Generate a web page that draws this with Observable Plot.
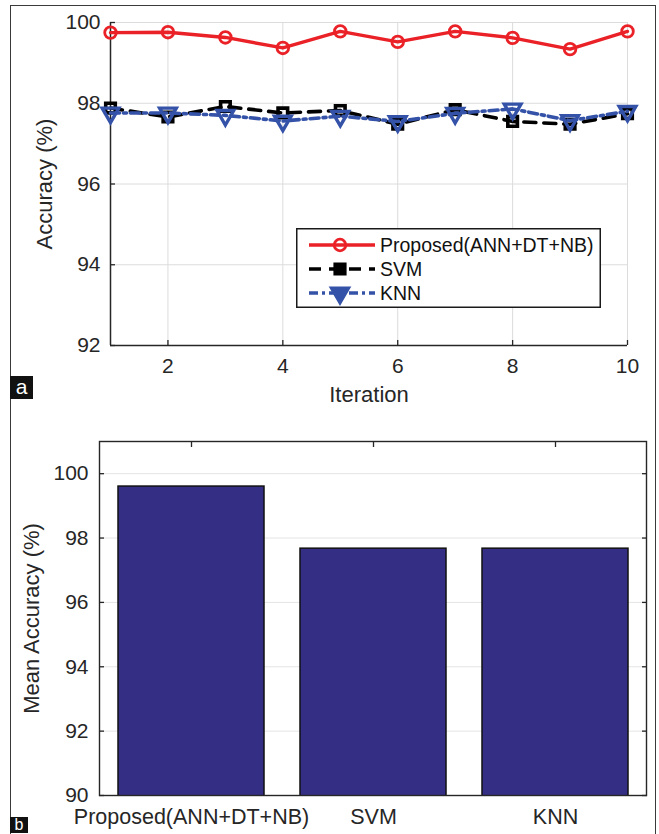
<!DOCTYPE html>
<html>
<head>
<meta charset="utf-8">
<script src="https://cdn.jsdelivr.net/npm/d3@7"></script>
<script src="https://cdn.jsdelivr.net/npm/@observablehq/plot@0.6"></script>
<style>
  html, body { margin: 0; padding: 0; background: #fff; overflow: hidden; }
  #wrap { position: relative; width: 659px; height: 834px; overflow: hidden; font-family: "Liberation Sans", Arial, sans-serif; }
  #top, #bottom { position: absolute; left: 0; }
  #top { top: 0; }
  #bottom { top: 420px; }
  #frame { position: absolute; left: 10px; top: 5px; width: 646px; height: 860px; border: 1.5px solid #3a3a3a; box-sizing: border-box; pointer-events: none; }
  .tag { position: absolute; background: #111; color: #fff; text-align: center; }
  #tagA { left: 10px; top: 376px; width: 23px; height: 23px; font-size: 21px; line-height: 22px; }
  #tagB { left: 10px; top: 817px; width: 18px; height: 16px; font-size: 16px; line-height: 16px; }
  #legend { position: absolute; left: 296px; top: 228px; }
</style>
</head>
<body>
<div id="wrap">
  <div id="top"></div>
  <div id="bottom"></div>
  <svg id="legend" width="305" height="80"></svg>
  <div id="frame"></div>
  <div class="tag" id="tagA">a</div>
  <div class="tag" id="tagB">b</div>
</div>
<script>
// ---------- data ----------
const iterations = [1, 2, 3, 4, 5, 6, 7, 8, 9, 10];
const proposedAcc = [99.75, 99.76, 99.63, 99.37, 99.78, 99.52, 99.78, 99.62, 99.34, 99.78];
const svmAcc      = [97.88, 97.66, 97.92, 97.76, 97.82, 97.48, 97.84, 97.55, 97.48, 97.74];
const knnAcc      = [97.76, 97.76, 97.70, 97.56, 97.68, 97.55, 97.75, 97.86, 97.57, 97.80];
const seriesNames = ["Proposed(ANN+DT+NB)", "SVM", "KNN"];
const xTicksTop = [2, 4, 6, 8, 10];
const yTicksTop = [92, 94, 96, 98, 100];

const methods = ["Proposed(ANN+DT+NB)", "SVM", "KNN"];
const meanAcc = [99.6, 97.67, 97.67];
const yTicksBottom = [90, 92, 94, 96, 98, 100];

// ---------- styles ----------
const FONT = "Liberation Sans, Arial, Helvetica, sans-serif";
const INK = "#262626";
const GRID = "#dcdcdc";
const sqrt3 = Math.sqrt(3);
const triangleDown = {
  draw(ctx, size) {
    const y = -Math.sqrt(size / (sqrt3 * 3));
    ctx.moveTo(0, -y * 2);
    ctx.lineTo(-sqrt3 * y, y);
    ctx.lineTo(sqrt3 * y, y);
    ctx.closePath();
  }
};
const seriesStyle = [
  {values: proposedAcc, stroke: "#ea2127", width: 3.4, dash: null, symbol: "circle", r: 5.8, sw: 2.8, d3sym: d3.symbolCircle},
  {values: svmAcc, stroke: "#000000", width: 3.6, dash: "12,8", symbol: "square", r: 5.4, sw: 3.6, d3sym: d3.symbolSquare},
  {values: knnAcc, stroke: "#3452a8", width: 3.6, dash: "9,4,3,4", symbol: triangleDown, r: 6.2, sw: 3.4, d3sym: triangleDown}
];

// ---------- top chart ----------
const seriesMarks = seriesStyle.flatMap(s => [
  Plot.line(iterations, {x: d => d, y: (d, i) => s.values[i], stroke: s.stroke, strokeWidth: s.width, strokeDasharray: s.dash}),
  Plot.dot(iterations, {x: d => d, y: (d, i) => s.values[i], symbol: s.symbol, r: s.r, stroke: s.stroke, strokeWidth: s.sw, fill: "none"})
]);

const topChart = Plot.plot({
  width: 659, height: 420,
  marginLeft: 110, marginRight: 32, marginTop: 22, marginBottom: 75,
  style: {background: "transparent", color: INK, fontFamily: FONT, overflow: "visible"},
  x: {domain: [iterations[0], iterations[iterations.length - 1]], axis: null},
  y: {domain: [yTicksTop[0], yTicksTop[yTicksTop.length - 1]], axis: null},
  marks: [
    Plot.gridX(xTicksTop, {stroke: GRID, strokeOpacity: 1, strokeWidth: 1}),
    Plot.gridY(yTicksTop, {stroke: GRID, strokeOpacity: 1, strokeWidth: 1}),
    Plot.ruleX([iterations[0]], {stroke: INK, strokeWidth: 1.5}),
    Plot.ruleY([yTicksTop[0]], {stroke: INK, strokeWidth: 1.5}),
    Plot.axisX(xTicksTop, {anchor: "bottom", tickSize: -5, tickFormat: () => "", label: null, strokeWidth: 1.3}),
    Plot.axisX(xTicksTop, {anchor: "bottom", tickSize: 0, tickPadding: 13, fontSize: 21, label: null}),
    Plot.axisY(yTicksTop, {anchor: "left", tickSize: -5, tickFormat: () => "", label: null, strokeWidth: 1.3}),
    Plot.axisY(yTicksTop, {anchor: "left", tickSize: 0, tickPadding: 10, fontSize: 21, label: null}),
    Plot.text(["Iteration"], {text: d => d, frameAnchor: "bottom", dy: 49, fontSize: 22, textAnchor: "middle", lineAnchor: "middle", fill: INK}),
    Plot.text(["Accuracy (%)"], {text: d => d, frameAnchor: "left", dx: -66, rotate: -90, fontSize: 22, textAnchor: "middle", lineAnchor: "middle", fill: INK}),
    ...seriesMarks
  ]
});
document.getElementById("top").appendChild(topChart);

// ---------- legend ----------
const leg = d3.select("#legend");
leg.append("rect").attr("x", 0.75).attr("y", 0.75).attr("width", 303.5).attr("height", 78.5)
  .attr("fill", "#fff").attr("stroke", "#1a1a1a").attr("stroke-width", 1.5);
seriesStyle.forEach((s, i) => {
  const cy = 17 + i * 24;
  const g = leg.append("g");
  g.append("line").attr("x1", 13).attr("x2", 79).attr("y1", cy).attr("y2", cy)
    .attr("stroke", s.stroke).attr("stroke-width", s.width)
    .attr("stroke-dasharray", s.dash);
  g.append("path").attr("transform", `translate(44,${cy})`)
    .attr("d", d3.symbol(s.d3sym, Math.PI * s.r * s.r)())
    .attr("fill", i === 0 ? "none" : s.stroke).attr("stroke", s.stroke).attr("stroke-width", s.sw);
  g.append("text").attr("x", 84).attr("y", cy).attr("dy", "0.36em")
    .attr("font-family", FONT).attr("font-size", 19.5).attr("fill", "#111").text(seriesNames[i]);
});

// ---------- bottom chart ----------
const bottomChart = Plot.plot({
  width: 659, height: 414,
  marginLeft: 99, marginRight: 13, marginTop: 21, marginBottom: 39,
  style: {background: "transparent", color: INK, fontFamily: FONT, overflow: "visible"},
  x: {domain: methods, paddingInner: 0.2, paddingOuter: 0.1, axis: null},
  y: {domain: [yTicksBottom[0], 101], axis: null},
  marks: [
    Plot.gridY(yTicksBottom, {stroke: "#e4e4e4", strokeOpacity: 1, strokeWidth: 1}),
    Plot.barY(methods, {x: d => d, y: (d, i) => meanAcc[i], fill: "#352e85", stroke: "#111", strokeWidth: 1.5, clip: true}),
    Plot.frame({stroke: INK, strokeWidth: 1.4}),
    Plot.axisX({anchor: "top", tickSize: -5, tickFormat: () => "", label: null, strokeWidth: 1.3}),
    Plot.axisX({anchor: "bottom", tickSize: 0, tickPadding: 13, fontSize: 21.5, label: null}),
    Plot.axisY(yTicksBottom, {anchor: "left", tickSize: -5, tickFormat: () => "", label: null, strokeWidth: 1.3}),
    Plot.axisY(yTicksBottom, {anchor: "right", tickSize: -5, tickFormat: () => "", label: null, strokeWidth: 1.3}),
    Plot.axisY(yTicksBottom, {anchor: "left", tickSize: 0, tickPadding: 11, fontSize: 21, label: null}),
    Plot.text(["Mean Accuracy (%)"], {text: d => d, frameAnchor: "left", dx: -68, rotate: -90, fontSize: 22, textAnchor: "middle", lineAnchor: "middle", fill: INK})
  ]
});
document.getElementById("bottom").appendChild(bottomChart);
</script>
</body>
</html>
